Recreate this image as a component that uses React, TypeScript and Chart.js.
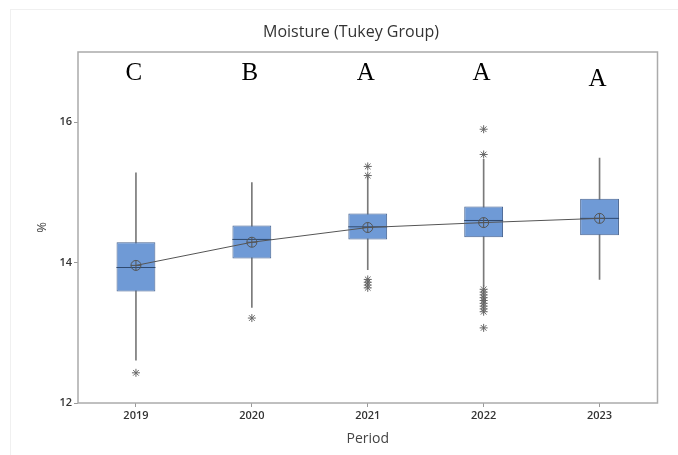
import React, { useEffect, useRef } from 'react';
import { Chart, registerables } from 'chart.js';

Chart.register(...registerables);

const categories = ['2019', '2020', '2021', '2022', '2023'];
const whiskerLow = [12.61, 13.36, 13.9, 13.66, 13.76];
const q1 = [13.59, 14.06, 14.33, 14.36, 14.39];
const median = [13.93, 14.33, 14.51, 14.6, 14.63];
const q3 = [14.29, 14.53, 14.7, 14.8, 14.91];
const whiskerHigh = [15.28, 15.14, 15.22, 15.47, 15.49];
const means = [13.96, 14.29, 14.5, 14.57, 14.63];
const outlierValues: number[][] = [
  [12.43],
  [13.21],
  [15.37, 15.24, 13.76, 13.72, 13.68, 13.64],
  [15.9, 15.54, 13.62, 13.58, 13.54, 13.5, 13.46, 13.42, 13.38, 13.34, 13.3, 13.07],
  [],
];
const tukeyGroups = ['C', 'B', 'A', 'A', 'A'];
const tukeyLabelY = [16.69, 16.69, 16.69, 16.69, 16.61];
const yTicks = [12, 14, 16];
const yMin = 12;
const yMax = 17;
const chartTitle = 'Moisture (Tukey Group)';
const xTitle = 'Period';
const yTitle = '%';

export default function App() {
  const ref = useRef<HTMLCanvasElement>(null);

  useEffect(() => {
    const canvas = ref.current!;
    const outlierPoints = outlierValues.flatMap((vals, i) =>
      vals.map((v) => ({ x: categories[i], y: v }))
    );

    const decor = {
      id: 'decor',
      afterDatasetsDraw(chart: any) {
        const { ctx, chartArea, scales } = chart;
        ctx.save();
        ctx.strokeStyle = '#ababab';
        ctx.lineWidth = 1.5;
        ctx.strokeRect(chartArea.left, chartArea.top, chartArea.right - chartArea.left, chartArea.bottom - chartArea.top);
        ctx.fillStyle = '#000';
        ctx.font = '25px "Liberation Serif"';
        ctx.textAlign = 'center';
        ctx.textBaseline = 'middle';
        tukeyGroups.forEach((g, i) => {
          ctx.fillText(g, scales.x.getPixelForValue(i) - 2, scales.y.getPixelForValue(tukeyLabelY[i]));
        });
        ctx.fillStyle = '#333';
        ctx.font = '16px "Open Sans"';
        ctx.fillText(chartTitle, 351, 32);
        ctx.restore();
      },
    };

    const chart = new Chart(canvas, {
      type: 'bar',
      data: {
        labels: categories,
        datasets: [
          {
            type: 'bar',
            data: categories.map((_, i) => [whiskerLow[i], whiskerHigh[i]]),
            backgroundColor: '#7a7a7a',
            barThickness: 1,
            grouped: false,
            order: 5,
          } as any,
          {
            type: 'bar',
            data: categories.map((_, i) => [q1[i], q3[i]]),
            backgroundColor: '#6f9ad6',
            borderColor: '#45628f',
            borderWidth: 1,
            borderSkipped: false,
            barPercentage: 0.335,
            categoryPercentage: 1,
            grouped: false,
            order: 4,
          } as any,
          {
            type: 'line',
            data: median,
            showLine: false,
            pointStyle: 'line',
            pointRadius: 19.5,
            pointBorderColor: '#2f4a70',
            pointBorderWidth: 1,
            order: 3,
          } as any,
          {
            type: 'line',
            data: means,
            borderColor: '#555',
            borderWidth: 1,
            pointStyle: 'circle',
            pointRadius: 5,
            pointBackgroundColor: 'rgba(0,0,0,0)',
            pointBorderColor: '#555',
            pointBorderWidth: 1,
            order: 2,
          } as any,
          {
            type: 'line',
            data: means,
            showLine: false,
            pointStyle: 'cross',
            pointRadius: 5,
            pointBorderColor: '#555',
            pointBorderWidth: 1,
            order: 1,
          } as any,
          {
            type: 'line',
            data: outlierPoints,
            showLine: false,
            pointStyle: 'star',
            pointRadius: 4,
            pointBorderColor: '#666',
            pointBorderWidth: 1,
            order: 0,
          } as any,
        ],
      },
      options: {
        responsive: false,
        animation: false,
        events: [],
        layout: { padding: { top: 52, right: 18, bottom: 0, left: 0 } },
        plugins: {
          legend: { display: false },
          tooltip: { enabled: false },
          title: { display: false },
        },
        scales: {
          x: {
            type: 'category',
            offset: true,
            grid: { offset: false, drawOnChartArea: false, drawTicks: true, tickLength: 4, color: '#999' },
            border: { display: false },
            ticks: { color: '#333', font: { size: 11, family: 'Open Sans', weight: '600' }, padding: 2, maxRotation: 0 },
            title: {
              display: true,
              text: xTitle,
              color: '#444',
              font: { size: 14, family: 'Open Sans' },
              padding: { top: 0, bottom: 8 },
            },
            afterFit(s: any) {
              s.height = 52;
            },
          },
          y: {
            type: 'linear',
            min: yMin,
            max: yMax,
            afterBuildTicks(s: any) {
              s.ticks = yTicks.map((v) => ({ value: v }));
            },
            grid: { drawOnChartArea: false, drawTicks: true, tickLength: 4, color: '#999' },
            border: { display: false },
            ticks: { color: '#333', font: { size: 11, family: 'Open Sans', weight: '600' }, padding: 2 },
            title: {
              display: true,
              text: yTitle,
              color: '#444',
              font: { size: 13, family: 'Open Sans' },
              padding: { top: 34, bottom: 0 },
            },
            afterFit(s: any) {
              s.width = 78;
            },
          },
        },
      } as any,
      plugins: [decor],
    });
    return () => chart.destroy();
  }, []);

  return (
    <div style={{ position: 'absolute', left: 0, top: 0, width: 678, height: 455, background: '#fff' }}>
      <div style={{ position: 'absolute', left: 10, top: 9, right: 0, bottom: 0, border: '1px solid #f0f0f0', borderRight: 'none', borderBottom: 'none' }} />
      <canvas ref={ref} width={678} height={455} style={{ position: 'absolute', left: 0, top: 0, width: 678, height: 455 }} />
    </div>
  );
}
